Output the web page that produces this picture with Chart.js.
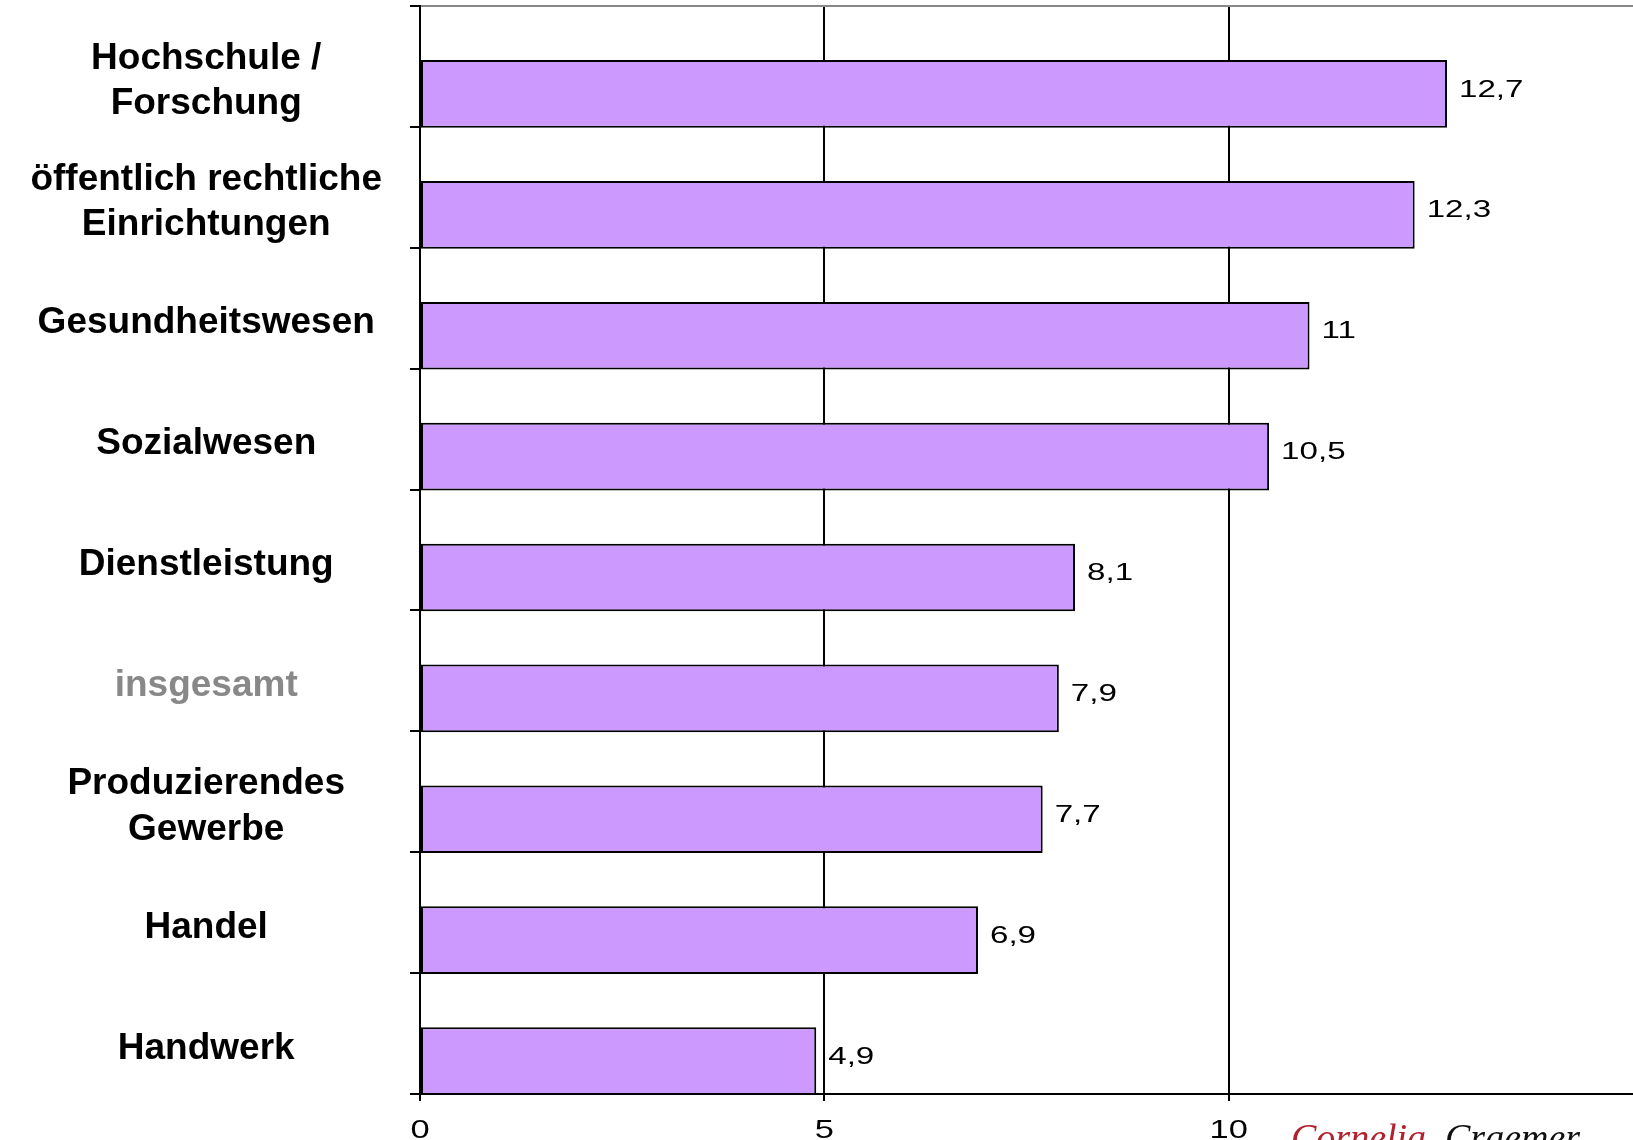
<!DOCTYPE html>
<html lang="de">
<head>
<meta charset="utf-8">
<title>Balkendiagramm</title>
<script src="https://cdn.jsdelivr.net/npm/chart.js@4/dist/chart.umd.min.js"></script>
<style>
    html, body { margin: 0; padding: 0; background: #fff; overflow: hidden; }
    #wrap { position: relative; width: 1633px; height: 1140px; }
</style>
</head>
<body>
<div id="wrap"><canvas id="balken"></canvas></div>
<script>
// Daten
const kategorien = [
    ['Hochschule /', 'Forschung'],
    ['öffentlich rechtliche', 'Einrichtungen'],
    'Gesundheitswesen',
    'Sozialwesen',
    'Dienstleistung',
    'insgesamt',
    ['Produzierendes', 'Gewerbe'],
    'Handel',
    'Handwerk'
];
const werte = [12.7, 12.3, 11, 10.5, 8.1, 7.9, 7.7, 6.9, 4.9];
const xMin = 0;
const xMax = 15;
const xSchritt = 5;
const xBeschriftung = [0, 5, 10];

const STRETCH = 1.38; // breite Schrift wie im Original

function breiterText(ctx, text, x, y, align) {
    ctx.save();
    ctx.translate(x, y);
    ctx.scale(STRETCH, 1);
    ctx.textAlign = align;
    ctx.fillText(text, 0, 0);
    ctx.restore();
}

const wertLabels = {
    id: 'wertLabels',
    afterDatasetsDraw(chart) {
        const ctx = chart.ctx;
        const meta = chart.getDatasetMeta(1);
        ctx.save();
        ctx.fillStyle = '#000';
        ctx.font = '24px "Liberation Sans", Arial, sans-serif';
        ctx.textBaseline = 'middle';
        meta.data.forEach((bar, i) => {
            const txt = String(werte[i]).replace('.', ',');
            breiterText(ctx, txt, bar.x + 12, bar.y - 4, 'left');
        });
        ctx.restore();
    },
    afterDraw(chart) {
        const ctx = chart.ctx;
        const x = chart.scales.x;
        ctx.save();
        ctx.fillStyle = '#000';
        ctx.font = '25px "Liberation Sans", Arial, sans-serif';
        ctx.textBaseline = 'alphabetic';
        xBeschriftung.forEach(v => {
            breiterText(ctx, String(v), x.getPixelForValue(v), 1138, 'center');
        });
        // Signatur unten rechts (abgeschnitten)
        ctx.font = 'italic 38px "Liberation Serif", serif';
        ctx.textAlign = 'left';
        ctx.fillStyle = '#b3202e';
        ctx.fillText('Cornelia', 1291, 1150);
        ctx.fillStyle = '#111';
        ctx.fillText('Craemer', 1445, 1150);
        ctx.restore();
    }
};

new Chart(document.getElementById('balken'), {
    type: 'bar',
    data: {
        labels: kategorien,
        datasets: [{
            // leerer Platzhalter, damit die Balken unten im Feld sitzen
            data: []
        }, {
            data: werte,
            backgroundColor: '#cc99ff',
            borderColor: '#000',
            borderWidth: 2,
            borderSkipped: false
        }]
    },
    options: {
        indexAxis: 'y',
        responsive: true,
        maintainAspectRatio: false,
        animation: false,
        events: [],
        categoryPercentage: 0.91,
        barPercentage: 1.23,
        layout: { padding: { top: 6, right: 0, left: 0, bottom: 0 } },
        plugins: {
            legend: { display: false },
            tooltip: { enabled: false }
        },
        scales: {
            x: {
                type: 'linear',
                min: xMin,
                max: xMax,
                ticks: { stepSize: xSchritt, display: false },
                grid: {
                    color: c => (c.tick && c.tick.value === xMax) ? 'rgba(0,0,0,0)' : '#000',
                    tickColor: c => (c.tick && c.tick.value === xMax) ? 'rgba(0,0,0,0)' : '#000',
                    lineWidth: 2,
                    tickLength: 7
                },
                border: { color: '#000', width: 2 },
                afterFit: s => {
                    s.height = 46;
                    s.paddingLeft = 0;
                    s.paddingRight = 0;
                }
            },
            y: {
                grid: {
                    offset: true,
                    color: c => c.index === 0 ? '#888' : 'rgba(0,0,0,0)',
                    tickColor: '#000',
                    lineWidth: 2,
                    tickLength: 10
                },
                border: { color: '#000', width: 2 },
                ticks: {
                    crossAlign: 'center',
                    padding: 28,
                    labelOffset: 15,
                    color: c => c.index === 5 ? '#888' : '#000',
                    font: { family: '"Liberation Sans", Arial, sans-serif', size: 37, weight: 'bold', lineHeight: 1.22 }
                },
                afterFit: s => {
                    s.width = 420;
                    s.paddingTop = 0;
                    s.paddingBottom = 0;
                }
            }
        }
    },
    plugins: [wertLabels]
});
</script>
</body>
</html>
